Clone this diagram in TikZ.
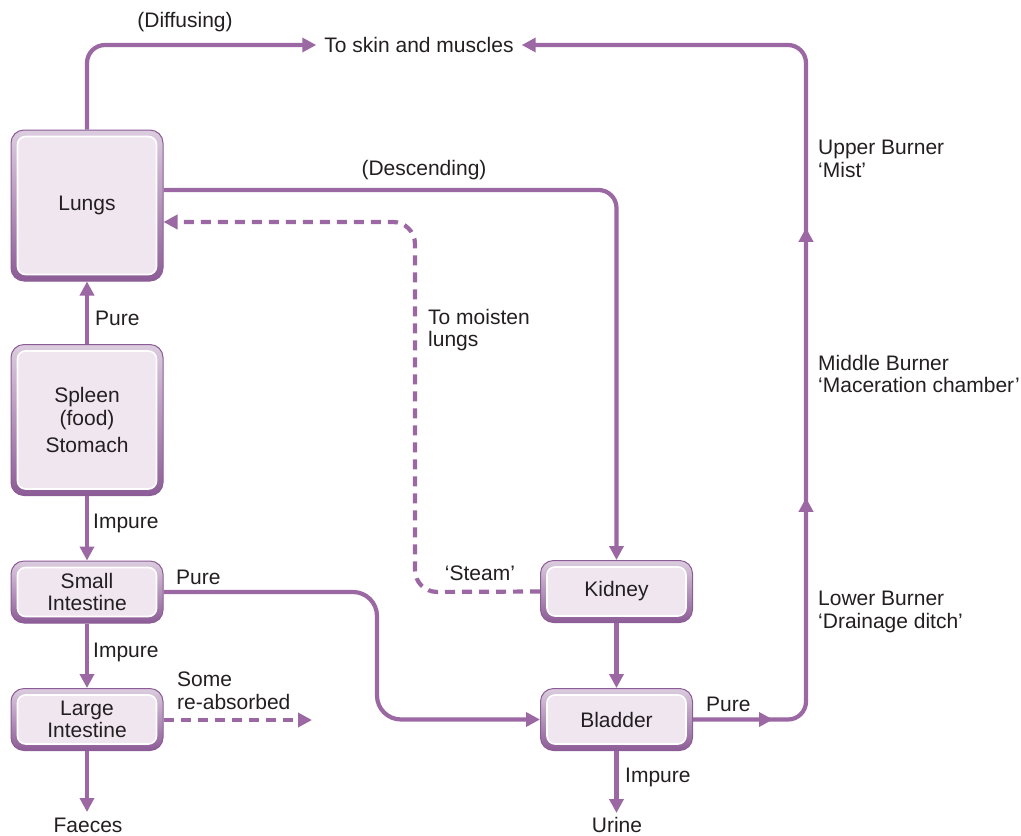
\documentclass[tikz,border=0pt]{standalone}
\usepackage{fontspec}
\setmainfont{Liberation Sans}
\usetikzlibrary{arrows.meta,decorations.markings}
\definecolor{flowc}{RGB}{155,104,163}
\definecolor{boxin}{RGB}{240,230,240}
\definecolor{rimtop}{RGB}{220,205,223}
\definecolor{rimbot}{RGB}{140,92,150}
\definecolor{ink}{RGB}{35,31,32}

\begin{document}
\begin{tikzpicture}[x=1pt,y=-1pt,
  every node/.style={font=\fontsize{21}{22.5}\selectfont, text=ink},
  organ/.style={rounded corners=13pt, top color=rimtop, bottom color=rimbot,
    draw=rimbot, line width=1pt, align=center, inner sep=0pt,
    minimum width=152pt,
    path picture={\draw[white, line width=1.6pt, fill=boxin, rounded corners=8pt]
      ([shift={(6.5pt,-6.5pt)}]path picture bounding box.north west) rectangle
      ([shift={(-6.5pt,6.5pt)}]path picture bounding box.south east);}},
  tall/.style={organ, minimum height=151pt},
  short/.style={organ, minimum height=62pt},
  lbl/.style={inner sep=0pt, anchor=west, align=left},
  clbl/.style={inner sep=0pt, align=center},
  flow/.style={draw=flowc, line width=4.2pt, rounded corners=18pt},
  tip/.style={-{Triangle[length=14pt,width=14pt]}},
  dflow/.style={flow, dash pattern=on 10pt off 7pt},
  midarrows/.style={postaction={decorate, decoration={markings,
    mark=at position 80pt with {\arrow{Triangle[length=14pt,width=14pt]}},
    mark=at position 327pt with {\arrow{Triangle[length=14pt,width=14pt]}},
    mark=at position 597pt with {\arrow{Triangle[length=14pt,width=14pt]}}}}}
]
\useasboundingbox (0,0) rectangle (1021,836);

% organs
\node[tall]  (lungs)   at (87,205.5) {Lungs};
\node[tall]  (spleen)  at (87,420)   {Spleen\\(food)\\[5pt]Stomach};
\node[short] (small)   at (87,592)   {Small\\Intestine};
\node[short] (large)   at (87,719.5) {Large\\Intestine};
\node[short] (kidney)  at (616.5,591.5) {Kidney};
\node[short] (bladder) at (616.5,719.5) {Bladder};

% destination texts
\node[inner xsep=8pt, inner ysep=0pt] (skin) at (419,45) {To skin and muscles};
\node[clbl] (faeces) at (88,825) {Faeces};
\node[clbl] (urine)  at (617,825) {Urine};

% turning points
\coordinate (tl)  at (87,45);
\coordinate (dsc) at (616.5,190);
\coordinate (dm1) at (415,592);
\coordinate (dm2) at (415,222);
\coordinate (sb1) at (377,592);
\coordinate (sb2) at (377,719.5);
\coordinate (rb)  at (806,719.5);
\coordinate (rt)  at (806,45);
\coordinate (fe)  at (87,812);
\coordinate (ue)  at (616.5,813);
\coordinate (ra)  at (312,720);

% connectors
\draw[flow,tip] (lungs.north) -- (tl) -- (skin.west);
\draw[flow,tip] (lungs.east |- dsc) -- (dsc) -- (kidney.north);
\draw[dflow,tip,rounded corners=22pt] (kidney.west) -- (dm1) -- (dm2) -- (lungs.east |- dm2);
\draw[flow,tip] (spleen.north) -- (lungs.south);
\draw[flow,tip] (spleen.south) -- (small.north);
\draw[flow,tip] (small.south) -- (large.north);
\draw[flow,tip] (large.south) -- (fe);
\draw[dflow,tip] (large.east |- ra) -- (ra);
\draw[flow,tip,rounded corners=24pt] (small.east) -- (sb1) -- (sb2) -- (bladder.west);
\draw[flow,tip] (kidney.south) -- (bladder.north);
\draw[flow,tip] (bladder.south) -- (ue);
\draw[flow,tip,midarrows] (bladder.east) -- (rb) -- (rt) -- (skin.east);

% labels
\node[clbl] (ldiff) at (185,22)  {(Diffusing)};
\node[clbl] (ldesc) at (424,170) {(Descending)};
\node[lbl]  (lmoist) at (428,330) {To moisten\\lungs};
\node[clbl] (lsteam) at (480,573) {‘Steam’};
\node[lbl]  (lp1) at (95,318)  {Pure};
\node[lbl]  (li1) at (93,523)  {Impure};
\node[lbl]  (lp2) at (176,577) {Pure};
\node[lbl]  (li2) at (93,652)  {Impure};
\node[lbl]  (lre) at (177,691) {Some\\re-absorbed};
\node[lbl]  (lp3) at (706,704) {Pure};
\node[lbl]  (li3) at (625,777) {Impure};
\node[lbl]  (lub) at (818,159) {Upper Burner\\‘Mist’};
\node[lbl]  (lmb) at (818,374) {Middle Burner\\‘Maceration chamber’};
\node[lbl]  (llb) at (818,612) {Lower Burner\\‘Drainage ditch’};
\end{tikzpicture}
\end{document}
